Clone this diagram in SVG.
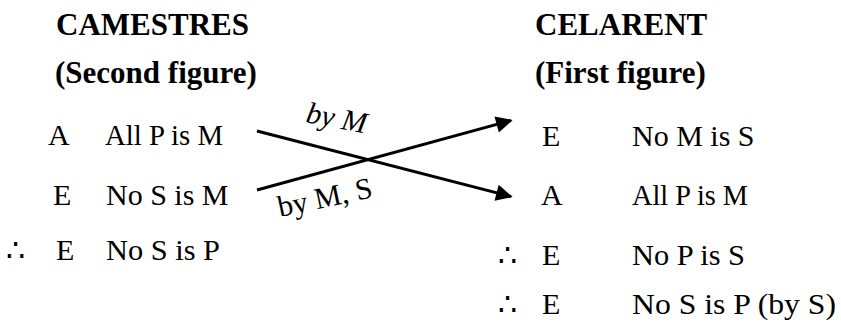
<svg xmlns="http://www.w3.org/2000/svg" width="841" height="330" viewBox="0 0 841 330">
<style>
text{font-family:"Liberation Serif","DejaVu Serif",serif;fill:#000;font-size:30px}
.h{font-weight:bold;font-size:31px}
.it{font-style:italic}
.c{stroke:#000;stroke-width:3;fill:none}
</style>
<defs>
<marker id="ah" viewBox="0 0 10 10" refX="9" refY="5" markerWidth="7" markerHeight="5.5" markerUnits="strokeWidth" orient="auto">
<path d="M0,0 L10,5 L0,10 Z" fill="#000"/>
</marker>
</defs>
<rect width="841" height="330" fill="#fff"/>
<g id="camestres">
<text class="h" x="56" y="35">CAMESTRES</text>
<text class="h" x="55" y="83">(Second figure)</text>
<text x="48" y="145">A</text>
<text x="105" y="145" textLength="118" lengthAdjust="spacingAndGlyphs">All P is M</text>
<text x="53" y="205">E</text>
<text x="106" y="205">No S is M</text>
<text x="6" y="260">∴</text>
<text x="56" y="260">E</text>
<text x="106" y="260" textLength="114" lengthAdjust="spacingAndGlyphs">No S is P</text>
</g>
<g id="celarent">
<text class="h" x="535" y="35">CELARENT</text>
<text class="h" x="535" y="83">(First figure)</text>
<text x="542" y="146">E</text>
<text x="632" y="146">No M is S</text>
<text x="541" y="205">A</text>
<text x="632" y="205" textLength="116" lengthAdjust="spacingAndGlyphs">All P is M</text>
<text x="498" y="265">∴</text>
<text x="542" y="265">E</text>
<text x="632" y="265" textLength="113" lengthAdjust="spacingAndGlyphs">No P is S</text>
<text x="498" y="314">∴</text>
<text x="542" y="314">E</text>
<text x="632" y="314" textLength="204" lengthAdjust="spacingAndGlyphs">No S is P  (by S)</text>
</g>
<g id="connectors">
<line class="c" x1="257" y1="131" x2="511" y2="196.5" marker-end="url(#ah)"/>
<line class="c" x1="257" y1="190" x2="511" y2="120.5" marker-end="url(#ah)"/>
<text class="it" transform="translate(305,122) rotate(11)">by M</text>
<text transform="translate(280,217) rotate(-12)">by M, S</text>
</g>
</svg>
